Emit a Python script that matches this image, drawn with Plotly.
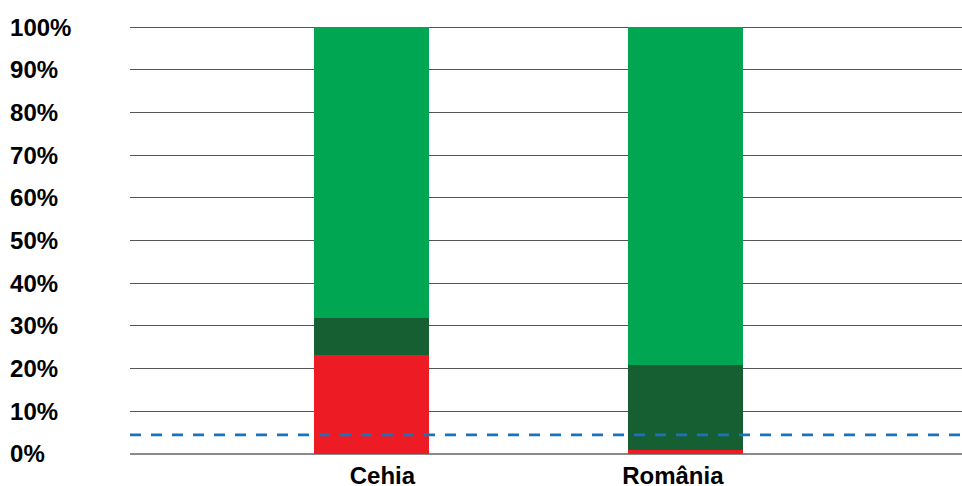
import plotly.graph_objects as go

categories = ["Cehia", "România"]
cat_pos = [0, 1]
label_pos = [0.035, 0.96]
red_vals = [23.2, 1.0]
dark_green_vals = [8.7, 19.8]
light_green_vals = [68.1, 79.2]
ref_level = 4.5
y_ticks = [0, 10, 20, 30, 40, 50, 60, 70, 80, 90, 100]
y_tick_text = [f"{v}%" for v in y_ticks]

X_RANGE = [-0.769, 1.881]
font_family = "Liberation Sans, Arial, sans-serif"

fig = go.Figure()
for vals, col in [(red_vals, "#ed1c24"), (dark_green_vals, "#165f33"), (light_green_vals, "#00a651")]:
    fig.add_trace(go.Bar(x=cat_pos, y=vals, marker=dict(color=col, line=dict(width=0)),
                         width=0.366, showlegend=False, hoverinfo="skip"))

fig.add_trace(go.Scatter(x=X_RANGE, y=[ref_level, ref_level], mode="lines",
                         line=dict(color="#1a72bb", width=2.8, dash="11px,10px"),
                         showlegend=False, hoverinfo="skip"))

fig.update_layout(
    barmode="stack",
    width=962, height=486,
    margin=dict(l=0, r=0, t=26, b=32, autoexpand=False),
    paper_bgcolor="white", plot_bgcolor="white",
    font=dict(family=font_family, size=24, color="black"),
    xaxis=dict(domain=[130/962, 1], range=X_RANGE, tickvals=label_pos, ticktext=[f"<b>{c}</b>" for c in categories],
               showgrid=False, zeroline=False, showline=False, ticks="", ticklabelstandoff=5,
               automargin=False),
    yaxis=dict(range=[0, 100.3], tickvals=y_ticks, ticktext=[f"<b>{t}</b>" for t in y_tick_text],
               side="right", anchor="free", position=0.0094,
               showgrid=True, gridcolor="#555555", gridwidth=1,
               zeroline=True, zerolinecolor="#8a8a8a", zerolinewidth=2,
               showline=False, ticks="", automargin=False),
)

fig.write_html("out.html")
